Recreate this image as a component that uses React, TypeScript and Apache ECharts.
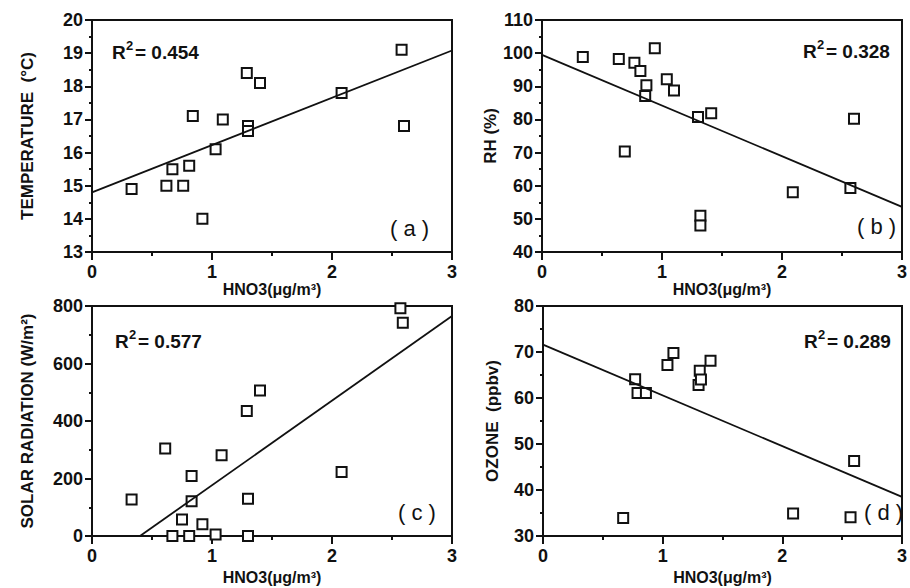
import React, { useEffect, useRef } from "react";
import * as echarts from "echarts";

// ---- data ----
const hno3A = [0.33, 0.62, 0.67, 0.76, 0.81, 0.84, 0.92, 1.03, 1.09, 1.29, 1.30, 1.30, 1.40, 2.08, 2.58, 2.60];
const tempA = [14.9, 15.0, 15.5, 15.0, 15.6, 17.1, 14.0, 16.1, 17.0, 18.4, 16.8, 16.65, 18.1, 17.8, 19.1, 16.8];
const fitA = [[0, 14.8], [3, 19.08]];

const hno3B = [0.34, 0.64, 0.77, 0.82, 0.87, 0.86, 0.94, 1.04, 1.10, 0.69, 1.30, 1.41, 1.32, 1.32, 2.09, 2.57, 2.60];
const rhB = [98.8, 98.2, 97.1, 94.6, 90.3, 87.1, 101.5, 92.1, 88.7, 70.3, 80.7, 81.9, 50.9, 48.0, 58.0, 59.3, 80.2];
const fitB = [[0, 99.5], [3, 53.6]];

const hno3C = [0.33, 0.61, 0.75, 0.83, 0.83, 0.92, 1.03, 1.08, 0.67, 0.81, 1.29, 1.30, 1.30, 1.40, 2.08, 2.57, 2.59];
const solarC = [127, 304, 57, 209, 121, 41, 5, 281, 0, 0, 435, 130, 0, 506, 223, 792, 742];
const fitC = [[0.4, 0], [3, 765]];

const hno3D = [0.67, 0.77, 0.79, 0.86, 1.04, 1.09, 1.30, 1.31, 1.32, 1.40, 2.09, 2.60, 2.57];
const ozoneD = [33.9, 64.1, 61.1, 61.1, 67.2, 69.8, 62.8, 65.9, 64.0, 68.1, 34.9, 46.3, 34.1];
const fitD = [[0, 71.6], [3, 38.5]];

const r2Values = ["0.454", "0.328", "0.577", "0.289"];
const panelTags = ["( a )", "( b )", "( c )", "( d )"];
const yNames = ["TEMPERATURE  (°C)", "RH (%)", "SOLAR RADIATION (W/m²)", "OZONE  (ppbv)"];
const xName = "HNO3(μg/m³)";
const yRanges = [
  [13, 20, 1],
  [40, 110, 10],
  [0, 800, 200],
  [30, 80, 10],
];

const FONT = '"Liberation Sans", Arial, sans-serif';
const INK = "#111";

function zip(xs: number[], ys: number[]) {
  return xs.map((x, i) => [x, ys[i]]);
}

export default function App() {
  const ref = useRef<HTMLDivElement>(null);
  useEffect(() => {
    if (!ref.current) return;
    const chart = echarts.init(ref.current, null, { renderer: "svg" });

    const grids = [
      { left: 92, top: 20, width: 360, height: 232 },
      { left: 542, top: 20, width: 365, height: 232 },
      { left: 92, top: 306, width: 360, height: 230 },
      { left: 543, top: 306, width: 364, height: 230 },
    ];
    const yGaps = [56, 42, 56, 42];
    const xGaps = [26, 26, 33, 33];

    const xAxes = grids.map((_, i) => ({
      type: "value",
      gridIndex: i,
      min: 0,
      max: 3,
      interval: 1,
      name: xName,
      nameLocation: "middle",
      nameGap: xGaps[i],
      nameTextStyle: { color: INK, fontFamily: FONT, fontWeight: 700, fontSize: 16 },
      axisLine: { show: true, lineStyle: { color: INK, width: 2 } },
      axisTick: { show: true, length: 8, lineStyle: { color: INK, width: 2 } },
      minorTick: { show: true, splitNumber: 2, length: 4, lineStyle: { color: INK, width: 2 } },
      splitLine: { show: false },
      axisLabel: { color: INK, fontFamily: FONT, fontWeight: 700, fontSize: 18, margin: 11 },
    }));

    const yAxes = grids.map((_, i) => ({
      type: "value",
      gridIndex: i,
      min: yRanges[i][0],
      max: yRanges[i][1],
      interval: yRanges[i][2],
      name: yNames[i],
      nameLocation: "middle",
      nameGap: yGaps[i],
      nameTextStyle: { color: INK, fontFamily: FONT, fontWeight: 700, fontSize: 17 },
      axisLine: { show: true, lineStyle: { color: INK, width: 2 } },
      axisTick: { show: true, length: 7, lineStyle: { color: INK, width: 2 } },
      minorTick: { show: true, splitNumber: 2, length: 3, lineStyle: { color: INK, width: 2 } },
      splitLine: { show: false },
      axisLabel: { color: INK, fontFamily: FONT, fontWeight: 700, fontSize: 18, margin: 9 },
    }));

    const pts = [zip(hno3A, tempA), zip(hno3B, rhB), zip(hno3C, solarC), zip(hno3D, ozoneD)];
    const fits = [fitA, fitB, fitC, fitD];

    const series: any[] = [];
    for (let i = 0; i < 4; i++) {
      series.push({
        type: "line",
        xAxisIndex: i,
        yAxisIndex: i,
        data: fits[i],
        showSymbol: false,
        symbol: "none",
        lineStyle: { color: INK, width: 1.8 },
        silent: true,
      });
      series.push({
        type: "scatter",
        xAxisIndex: i,
        yAxisIndex: i,
        data: pts[i],
        symbol: "rect",
        symbolSize: 10,
        itemStyle: { color: "#fff", borderColor: INK, borderWidth: 2, opacity: 1 },
      });
    }

    const r2Pos = [
      [112, 43],
      [803, 42],
      [115, 332],
      [804, 332],
    ];
    const tagPos = [
      [390, 217],
      [857, 215],
      [398, 501],
      [864, 501],
    ];

    const graphics: any[] = [];
    for (let i = 0; i < 4; i++) {
      const [gx, gy] = r2Pos[i];
      graphics.push({
        type: "group",
        x: gx,
        y: gy,
        children: [
          { type: "text", x: 0, y: 0, style: { text: "R", fill: INK, font: `bold 19px ${FONT}` } },
          { type: "text", x: 14, y: -4, style: { text: "2", fill: INK, font: `bold 13px ${FONT}` } },
          { type: "text", x: 23, y: 0, style: { text: "= " + r2Values[i], fill: INK, font: `bold 19px ${FONT}` } },
        ],
      });
      const [tx, ty] = tagPos[i];
      graphics.push({
        type: "text",
        x: tx,
        y: ty,
        style: { text: panelTags[i], fill: INK, font: `22px ${FONT}` },
      });
    }

    chart.setOption({
      animation: false,
      backgroundColor: "#fff",
      grid: grids.map((g) => ({ ...g, show: true, borderColor: INK, borderWidth: 2, backgroundColor: "transparent" })),
      xAxis: xAxes,
      yAxis: yAxes,
      series,
      graphic: graphics,
    });
    return () => chart.dispose();
  }, []);

  return (
    <div
      ref={ref}
      style={{ position: "absolute", left: 0, top: 0, width: 910, height: 588, background: "#fff" }}
    />
  );
}
